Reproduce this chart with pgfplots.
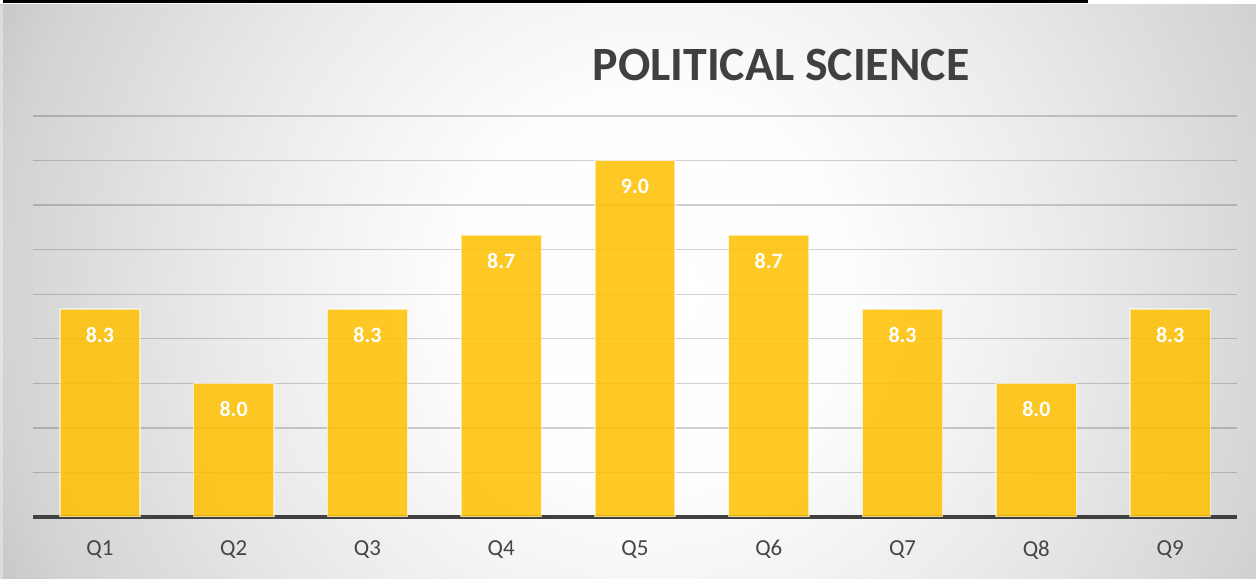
\documentclass[border=0pt]{standalone}
\usepackage{fontspec}
\setmainfont{Carlito}
\usepackage{pgfplots}
\pgfplotsset{compat=1.18}
\definecolor{barc}{HTML}{FFC000}
\definecolor{txt}{HTML}{404040}
\definecolor{tickc}{HTML}{454545}
\definecolor{g1}{HTML}{FDFDFD}
\definecolor{g2}{HTML}{EBEBEB}
\definecolor{g3}{HTML}{D3D3D3}
\definecolor{g4}{HTML}{C3C3C3}
\pgfdeclareradialshading{bgshade}{\pgfpointorigin}{color(0bp)=(white); color(200bp)=(g1); color(420bp)=(g2); color(650bp)=(g3); color(740bp)=(g4)}
\begin{document}
\begin{tikzpicture}
\begin{scope}[x=1bp,y=1bp]
\useasboundingbox (0,0) rectangle (1256,579);
\fill[white] (0,0) rectangle (1256,579);
\begin{scope}
\clip (0,0) rectangle (1256,574);
\node[inner sep=0pt, outer sep=0pt] at (650,289) {\pgfuseshading{bgshade}};
\fill[white, opacity=0.35] (0,0) rectangle (3,574);
\end{scope}
% spreadsheet cell borders at the top
\draw[black, line width=2.2bp] (3,577.5) -- (1088,577.5);
\foreach \xx in {4,214,298,381,464,547,629,712,795,878,961,1087}
  \draw[black, line width=2bp] (\xx,579) -- (\xx,576.5);
\node[font=\bfseries\fontsize{48}{48}\selectfont, text=txt] at (781,514) {POLITICAL SCIENCE};
\end{scope}
\begin{axis}[
  at={(33bp,62bp)}, anchor=south west,
  scale only axis, width=1204bp, height=401bp,
  xmin=0.5, xmax=9.5, ymin=7.4, ymax=9.2,
  ybar, bar width=0.6,
  xtick={1,2,3,4,5,6,7,8,9},
  xticklabels={Q1,Q2,Q3,Q4,Q5,Q6,Q7,Q8,Q9},
  xticklabel style={font=\fontsize{23}{23}\selectfont, text=tickc, yshift=-20bp},
  ytick={7.6,7.8,8.0,8.2,8.4,8.6,8.8,9.0,9.2},
  yticklabels={},
  ymajorgrids,
  major grid style={black, opacity=0.18, line width=1.3bp},
  extra y ticks={7.4}, extra y tick labels={},
  extra y tick style={grid=major, major grid style={draw=txt, opacity=1, line width=3.2bp}},
  major tick length=0, tick style={draw=none},
  axis line style={draw=none},
  nodes near coords={\pgfmathprintnumber[fixed,precision=1,zerofill,assume math mode=true]{\pgfplotspointmeta}},
  nodes near coords style={font=\bfseries\fontsize{22}{22}\selectfont, text=white, text opacity=1, anchor=center, yshift=-26bp},
]
\addplot[fill=barc, fill opacity=0.85, draw=white, draw opacity=0.55, line width=1.5bp]
  coordinates {(1,8.3333) (2,8.0) (3,8.3333) (4,8.6667) (5,9.0) (6,8.6667) (7,8.3333) (8,8.0) (9,8.3333)};
\end{axis}
\end{tikzpicture}
\end{document}
